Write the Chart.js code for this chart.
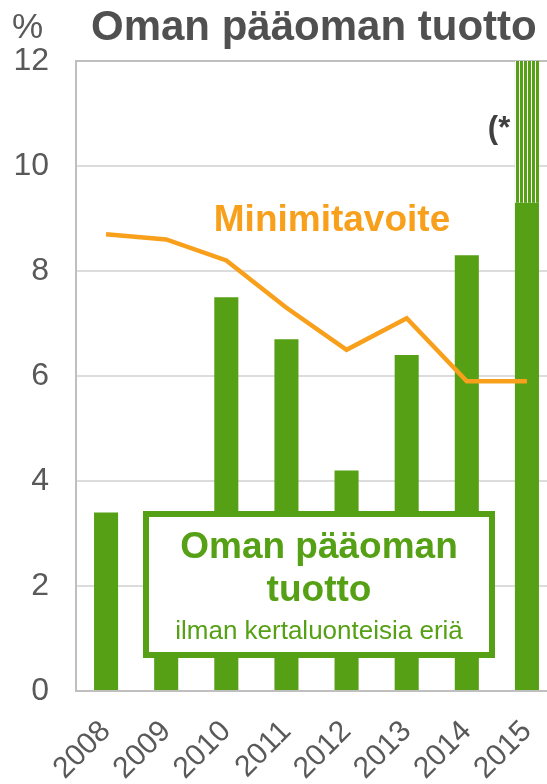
<!DOCTYPE html>
<html>
<head>
<meta charset="utf-8">
<script src="https://cdn.jsdelivr.net/npm/chart.js@4"></script>
<style>
  html, body { margin: 0; padding: 0; overflow: hidden; background: #fff; }
  #wrap { position: absolute; left: 0; top: 0; width: 564px; height: 784px; }
</style>
</head>
<body>
<div id="wrap"><canvas id="roeChart" width="564" height="784"></canvas></div>
<script>
// Chart data
const years = ['2008', '2009', '2010', '2011', '2012', '2013', '2014', '2015'];
const roeValues = [3.4, 3.0, 7.5, 6.7, 4.2, 6.4, 8.3, 9.3];
// striped part of 2015 (from solid top to above axis max)
const roeExtra = [null, null, null, null, null, null, null, [9.3, 13]];
const minTarget = [8.7, 8.6, 8.2, 7.3, 6.5, 7.1, 5.9, 5.9];
const yTicks = [0, 2, 4, 6, 8, 10, 12];

const colors = {
    green: '#55a014',
    orange: '#f8a01c',
    text: '#595959',
    title: '#505050',
    axis: '#bfbfbf',
    grid: '#dcdcdc'
};
const FONT = '"Liberation Sans", Arial, sans-serif';

// vertical stripe pattern for the 2015 extra part
function stripePattern() {
    const c = document.createElement('canvas');
    c.width = 4; c.height = 4;
    const g = c.getContext('2d');
    g.fillStyle = colors.green;
    g.fillRect(0, 0, 4, 4);
    g.fillStyle = '#ffffff';
    g.fillRect(3, 0, 1, 4);
    return g.createPattern(c, 'repeat');
}

const textPlugin = {
    id: 'texts',
    afterDraw(chart) {
        const ctx = chart.ctx;
        ctx.save();
        ctx.textBaseline = 'middle';

        ctx.fillStyle = colors.text;
        ctx.font = '35px ' + FONT;
        ctx.textAlign = 'left';
        ctx.fillText('%', 12, 28);

        ctx.fillStyle = colors.title;
        ctx.font = 'bold 42px ' + FONT;
        ctx.fillText('Oman pääoman tuotto', 91, 28);

        ctx.fillStyle = colors.orange;
        ctx.font = 'bold 37px ' + FONT;
        ctx.textAlign = 'center';
        ctx.fillText('Minimitavoite', 332, 221);

        ctx.fillStyle = '#404040';
        ctx.font = 'bold 31px ' + FONT;
        ctx.fillText('(*', 499, 129);

        // label box
        ctx.fillStyle = '#ffffff';
        ctx.fillRect(146, 514, 346, 141);
        ctx.strokeStyle = colors.green;
        ctx.lineWidth = 6;
        ctx.strokeRect(146, 514, 346, 141);

        ctx.fillStyle = colors.green;
        ctx.font = 'bold 37px ' + FONT;
        ctx.fillText('Oman pääoman', 319, 548);
        ctx.fillText('tuotto', 319, 591);
        ctx.font = '26px ' + FONT;
        ctx.fillText('ilman kertaluonteisia eriä', 319, 632);
        ctx.restore();
    }
};

new Chart(document.getElementById('roeChart').getContext('2d'), {
    type: 'bar',
    data: {
        labels: years,
        datasets: [
            {
                type: 'line',
                label: 'Minimitavoite',
                data: minTarget,
                borderColor: colors.orange,
                borderWidth: 4.5,
                pointRadius: 0,
                tension: 0,
                fill: false,
                order: 0
            },
            {
                label: 'Oman pääoman tuotto',
                data: roeValues,
                backgroundColor: colors.green,
                barPercentage: 0.4,
                categoryPercentage: 1,
                grouped: false,
                order: 1
            },
            {
                label: '(*',
                data: roeExtra,
                backgroundColor: stripePattern(),
                barPercentage: 0.4,
                categoryPercentage: 1,
                grouped: false,
                order: 2
            }
        ]
    },
    options: {
        responsive: false,
        animation: false,
        layout: { padding: { top: 61, right: 7, left: 0, bottom: 0 } },
        plugins: { legend: { display: false }, tooltip: { enabled: false } },
        scales: {
            x: {
                grid: { display: false },
                border: { color: colors.axis, width: 2 },
                ticks: {
                    color: colors.text,
                    font: { size: 30, family: FONT },
                    minRotation: 45,
                    maxRotation: 45,
                    padding: 15
                },
                afterFit(scale) {
                    scale.height = 93;
                    scale.paddingLeft = 0;
                    scale.paddingRight = 0;
                }
            },
            y: {
                min: 0,
                max: 12,
                afterBuildTicks(scale) { scale.ticks = yTicks.map(v => ({ value: v })); },
                grid: {
                    drawTicks: false,
                    lineWidth: 2,
                    color: c => (c.tick && c.tick.value === 12 ? colors.axis : colors.grid)
                },
                border: { color: colors.axis, width: 2 },
                ticks: {
                    color: colors.text,
                    font: { size: 32, family: FONT },
                    padding: 27
                },
                afterFit(scale) { scale.width = 76; }
            }
        }
    },
    plugins: [textPlugin]
});
</script>
</body>
</html>
